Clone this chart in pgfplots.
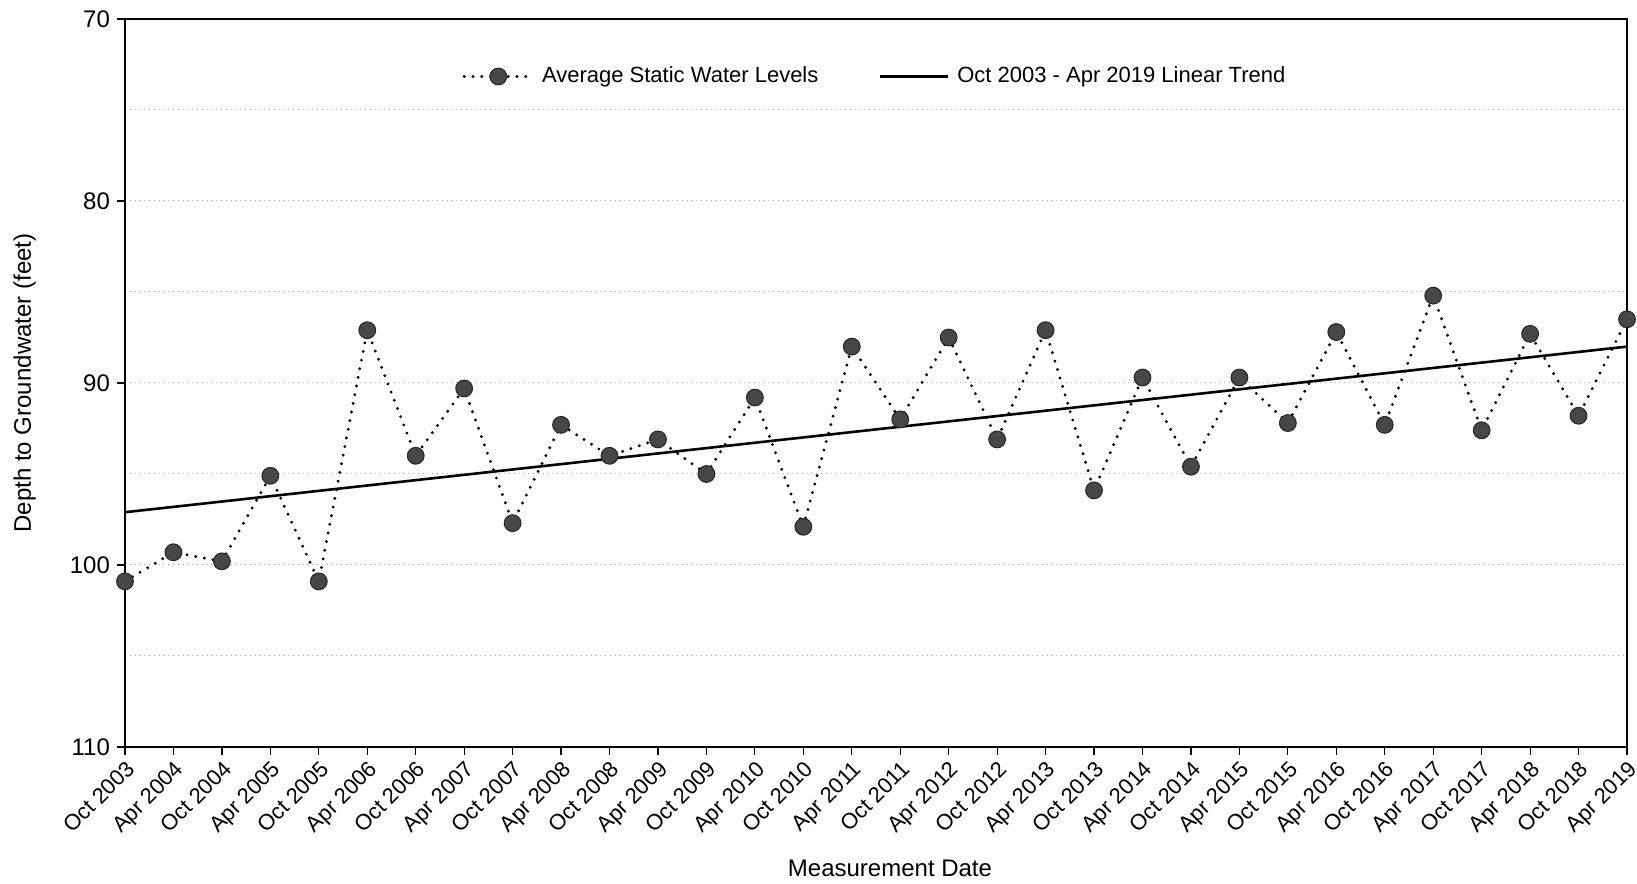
\documentclass[border=0pt]{standalone}
\usepackage{pgfplots}
\pgfplotsset{compat=1.18}
\usepackage{fontspec}
\setmainfont{Liberation Sans}
\begin{document}
\begin{tikzpicture}
\begin{axis}[
  scale only axis,
  width=751pt, height=364pt,
  xmin=0, xmax=31, ymin=70, ymax=110,
  y dir=reverse,
  axis line style={line width=1pt},
  xtick={0,...,31},
  xticklabels={Oct 2003,Apr 2004,Oct 2004,Apr 2005,Oct 2005,Apr 2006,Oct 2006,Apr 2007,Oct 2007,Apr 2008,Oct 2008,Apr 2009,Oct 2009,Apr 2010,Oct 2010,Apr 2011,Oct 2011,Apr 2012,Oct 2012,Apr 2013,Oct 2013,Apr 2014,Oct 2014,Apr 2015,Oct 2015,Apr 2016,Oct 2016,Apr 2017,Oct 2017,Apr 2018,Oct 2018,Apr 2019},
  x tick label style={rotate=45, anchor=north east, inner sep=1.5pt, font=\fontsize{11}{12}\selectfont},
  ytick={70,80,90,100,110},
  minor ytick={75,85,95,105},
  y tick label style={font=\fontsize{12}{14}\selectfont},
  /pgf/number format/assume math mode=true,
  tick pos=left, tick align=outside,
  major tick length=4pt, minor tick length=0pt,
  tick style={black, line width=0.6pt},
  ymajorgrids, yminorgrids,
  major grid style={black!35, dotted, line width=0.5pt},
  minor grid style={black!35, dotted, line width=0.5pt},
  xlabel={Measurement Date},
  ylabel={Depth to Groundwater (feet)},
  label style={font=\fontsize{12}{14}\selectfont},
  xlabel style={at={(axis description cs:0.5,0)}, anchor=north, yshift=-53pt, xshift=7pt},
  ylabel style={at={(axis description cs:0,0.5)}, anchor=south, yshift=41pt},
  legend columns=2,
  legend style={draw=none, fill=none, at={(axis description cs:0.5,0.921)}, anchor=center,
    font=\fontsize{11}{13}\selectfont, /tikz/every odd column/.append style={column sep=2pt},
    /tikz/every even column/.append style={column sep=28pt}},
  legend image code/.code={\draw[mark repeat=2,mark phase=2,#1] plot coordinates {(0cm,0cm) (0.6cm,0cm) (1.2cm,0cm)};},
]
\coordinate (bl) at (axis description cs:0,0);
\coordinate (tr) at (axis description cs:1,1);
\addplot[black, line width=1.6pt, dash pattern=on 0pt off 4.4pt, line cap=round,
  mark=*, mark size=4.2pt, mark options={solid, fill=black!72, draw=black!85, line width=0.5pt}]
coordinates {
(0,100.9)(1,99.3)(2,99.8)(3,95.1)(4,100.9)(5,87.1)(6,94.0)(7,90.3)
(8,97.7)(9,92.3)(10,94.0)(11,93.1)(12,95.0)(13,90.8)(14,97.9)(15,88.0)
(16,92.0)(17,87.5)(18,93.1)(19,87.1)(20,95.9)(21,89.7)(22,94.6)(23,89.7)
(24,92.2)(25,87.2)(26,92.3)(27,85.2)(28,92.6)(29,87.3)(30,91.8)(31,86.5)
};
\addlegendentry{Average Static Water Levels}
\addplot[black, line width=1.3pt, no marks] coordinates {(0,97.1)(31,88.0)};
\addlegendentry{Oct 2003 - Apr 2019 Linear Trend}
\end{axis}
\pgfresetboundingbox
\path[use as bounding box] ([shift={(-62.5pt,-68.5pt)}]bl) rectangle ([shift={(5pt,9.5pt)}]tr);
\end{tikzpicture}
\end{document}
